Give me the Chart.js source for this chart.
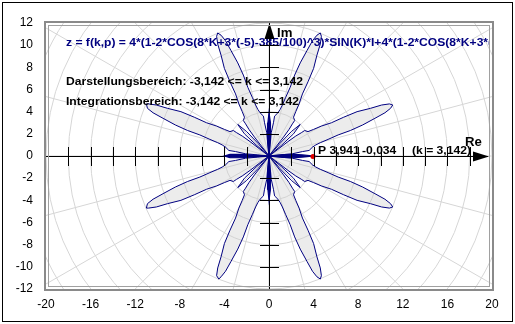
<!DOCTYPE html>
<html>
<head>
<meta charset="utf-8">
<script src="https://cdn.jsdelivr.net/npm/chart.js@4.4.1/dist/chart.umd.min.js"></script>
<style>
  html, body { margin: 0; padding: 0; background: #fff; }
  #wrap { position: relative; width: 515px; height: 324px; }
</style>
</head>
<body>
<div id="wrap"><canvas id="polarChart" width="515" height="324"></canvas></div>
<script>
// axis tick values
const xLabelTicks = [-20, -16, -12, -8, -4, 0, 4, 8, 12, 16, 20];
const yLabelTicks = [-12, -10, -8, -6, -4, -2, 0, 2, 4, 6, 8, 10, 12];
const xAxisMarks = [-18, -16, -14, -12, -10, -8, -6, -4, -2, 2, 4, 6, 8, 10, 12, 14, 16, 18];
const yAxisMarks = [-10, -8, -6, -4, -2, 2, 4, 6, 8, 10];

// polar grid
const gridRadii = [2, 4, 6, 8, 10, 12, 14, 16, 18, 20, 22, 24];
const gridAngles = [0, 15, 30, 45, 60, 75, 90, 105, 120, 135, 150, 165];

// petals of the curve (x, y)
const petalENE = [[0,0],[1.0,0.1],[2.1,0.2],[3.0,0.4],[3.6,0.5],[3.9,0.8],[4.2,1.0],[4.6,1.2],[5.3,1.5],[6.2,1.9],[7.3,2.3],[8.4,2.8],[9.5,3.4],[10.4,3.9],[10.9,4.3],[11.1,4.6],[10.8,4.7],[10.1,4.6],[9.1,4.3],[7.9,4.0],[6.7,3.5],[5.6,3.0],[4.7,2.7],[4.0,2.4],[3.5,2.2],[3.2,2.3],[2.9,2.1],[2.4,1.8],[1.7,1.3],[0.8,0.6],[0,0]];
const petalESE = [[0,0],[1.0,-0.1],[2.1,-0.2],[3.0,-0.4],[3.6,-0.5],[3.9,-0.8],[4.2,-1.0],[4.6,-1.2],[5.3,-1.5],[6.2,-1.9],[7.3,-2.3],[8.4,-2.8],[9.5,-3.4],[10.4,-3.9],[10.9,-4.3],[11.1,-4.6],[10.8,-4.7],[10.1,-4.6],[9.1,-4.3],[7.9,-4.0],[6.7,-3.5],[5.6,-3.0],[4.7,-2.7],[4.0,-2.4],[3.5,-2.2],[3.2,-2.3],[2.9,-2.1],[2.4,-1.8],[1.7,-1.3],[0.8,-0.6],[0,0]];
const petalNNE = [[0,0],[0.1,1.0],[0.2,2.1],[0.4,3.0],[0.5,3.6],[0.8,3.9],[1.0,4.2],[1.2,4.6],[1.5,5.3],[1.9,6.2],[2.3,7.3],[2.8,8.4],[3.4,9.5],[3.9,10.4],[4.3,10.9],[4.6,11.1],[4.7,10.8],[4.6,10.1],[4.3,9.1],[4.0,7.9],[3.5,6.7],[3.0,5.6],[2.7,4.7],[2.4,4.0],[2.2,3.5],[2.3,3.2],[2.1,2.9],[1.8,2.4],[1.3,1.7],[0.6,0.8],[0,0]];
const petalNNW = [[0,0],[-0.1,1.0],[-0.2,2.1],[-0.4,3.0],[-0.5,3.6],[-0.8,3.9],[-1.0,4.2],[-1.2,4.6],[-1.5,5.3],[-1.9,6.2],[-2.3,7.3],[-2.8,8.4],[-3.4,9.5],[-3.9,10.4],[-4.3,10.9],[-4.6,11.1],[-4.7,10.8],[-4.6,10.1],[-4.3,9.1],[-4.0,7.9],[-3.5,6.7],[-3.0,5.6],[-2.7,4.7],[-2.4,4.0],[-2.2,3.5],[-2.3,3.2],[-2.1,2.9],[-1.8,2.4],[-1.3,1.7],[-0.6,0.8],[0,0]];
const petalWNW = [[0,0],[-1.0,0.1],[-2.1,0.2],[-3.0,0.4],[-3.6,0.5],[-3.9,0.8],[-4.2,1.0],[-4.6,1.2],[-5.3,1.5],[-6.2,1.9],[-7.3,2.3],[-8.4,2.8],[-9.5,3.4],[-10.4,3.9],[-10.9,4.3],[-11.0,4.7],[-10.8,4.7],[-10.1,4.6],[-9.1,4.3],[-7.9,4.0],[-6.7,3.5],[-5.6,3.0],[-4.7,2.7],[-4.0,2.4],[-3.5,2.2],[-3.2,2.3],[-2.9,2.1],[-2.4,1.8],[-1.7,1.3],[-0.8,0.6],[0,0]];
const petalWSW = [[0,0],[-1.0,-0.1],[-2.1,-0.2],[-3.0,-0.4],[-3.6,-0.5],[-3.9,-0.8],[-4.2,-1.0],[-4.6,-1.2],[-5.3,-1.5],[-6.2,-1.9],[-7.3,-2.3],[-8.4,-2.8],[-9.5,-3.4],[-10.4,-3.9],[-10.9,-4.3],[-11.0,-4.7],[-10.8,-4.7],[-10.1,-4.6],[-9.1,-4.3],[-7.9,-4.0],[-6.7,-3.5],[-5.6,-3.0],[-4.7,-2.7],[-4.0,-2.4],[-3.5,-2.2],[-3.2,-2.3],[-2.9,-2.1],[-2.4,-1.8],[-1.7,-1.3],[-0.8,-0.6],[0,0]];
const petalSSW = [[0,0],[-0.1,-1.0],[-0.2,-2.1],[-0.4,-3.0],[-0.5,-3.6],[-0.8,-3.9],[-1.0,-4.2],[-1.2,-4.6],[-1.5,-5.3],[-1.9,-6.2],[-2.3,-7.3],[-2.8,-8.4],[-3.4,-9.5],[-3.9,-10.4],[-4.3,-10.9],[-4.5,-11.1],[-4.7,-10.8],[-4.6,-10.1],[-4.3,-9.1],[-4.0,-7.9],[-3.5,-6.7],[-3.0,-5.6],[-2.7,-4.7],[-2.4,-4.0],[-2.2,-3.5],[-2.3,-3.2],[-2.1,-2.9],[-1.8,-2.4],[-1.3,-1.7],[-0.6,-0.8],[0,0]];
const petalSSE = [[0,0],[0.1,-1.0],[0.2,-2.1],[0.4,-3.0],[0.5,-3.6],[0.8,-3.9],[1.0,-4.2],[1.2,-4.6],[1.5,-5.3],[1.9,-6.2],[2.3,-7.3],[2.8,-8.4],[3.4,-9.5],[3.9,-10.4],[4.3,-10.9],[4.6,-11.1],[4.7,-10.8],[4.6,-10.1],[4.3,-9.1],[4.0,-7.9],[3.5,-6.7],[3.0,-5.6],[2.7,-4.7],[2.4,-4.0],[2.2,-3.5],[2.3,-3.2],[2.1,-2.9],[1.8,-2.4],[1.3,-1.7],[0.6,-0.8],[0,0]];

// thin inner loops (negative radius parts)
const loopE = [[0,0],[1.3,0.12],[2.2,0.16],[3.0,0.1],[3.94,0.0],[3.0,-0.1],[2.2,-0.16],[1.3,-0.12],[0,0]];
const loopW = [[0,0],[-1.5,0.08],[-2.5,0.16],[-3.5,0.15],[-4.0,0.0],[-3.5,-0.15],[-2.5,-0.16],[-1.5,-0.08],[0,0]];
const loopN = [[0,0],[0.1,1.4],[0.16,2.0],[0.1,3.0],[0.0,3.9],[-0.1,3.0],[-0.16,2.0],[-0.1,1.4],[0,0]];
const loopS = [[0,0],[0.1,-1.4],[0.16,-2.0],[0.1,-3.0],[0.0,-4.0],[-0.1,-3.0],[-0.16,-2.0],[-0.1,-1.4],[0,0]];
const loopNE = [[0,0],[1.0,1.15],[2.0,2.2],[2.8,2.85],[2.2,2.0],[1.15,1.0],[0,0]];
const loopNW = [[0,0],[-1.0,1.15],[-2.0,2.2],[-2.8,2.85],[-2.2,2.0],[-1.15,1.0],[0,0]];
const loopSW = [[0,0],[-1.0,-1.15],[-2.0,-2.2],[-2.8,-2.85],[-2.2,-2.0],[-1.15,-1.0],[0,0]];
const loopSE = [[0,0],[1.0,-1.15],[2.0,-2.2],[2.8,-2.85],[2.2,-2.0],[1.15,-1.0],[0,0]];

const pointP = [[3.941, -0.034]];

const titleText = 'z = f(k,p) = 4*(1-2*COS(8*K+3*(-5)-385/100)^3)*SIN(K)*I+4*(1-2*COS(8*K+3*(-5)-385/100)^3)*COS(K)';
const rangeText = 'Darstellungsbereich: -3,142 <= k <= 3,142';
const integText = 'Integrationsbereich: -3,142 <= k <= 3,142';
const pointParts = ['P 3,941', '-0,034', '(k = 3,142)'];

const NAVY = '#000080';
const TEXT_FONT = 'bold 11px "Liberation Sans", Arial, sans-serif';
const toXY = arr => arr.map(p => ({ x: p[0], y: p[1] }));

const petals = [petalENE, petalNNE, petalNNW, petalWNW, petalWSW, petalSSW, petalSSE, petalESE];
const thickLoops = [loopE, loopW, loopN, loopS];
const thinLoops = [loopNE, loopNW, loopSW, loopSE];

const datasets = [];
datasets.push({
    data: toXY(pointP),
    showLine: false,
    pointRadius: 2.5,
    pointBackgroundColor: '#e00000',
    pointBorderColor: '#e00000',
    pointBorderWidth: 0
});
thickLoops.forEach(l => datasets.push({
    data: toXY(l), showLine: true, fill: 'shape',
    backgroundColor: NAVY, borderColor: NAVY, borderWidth: 1.2, pointRadius: 0
}));
thinLoops.forEach(l => datasets.push({
    data: toXY(l), showLine: true, fill: false,
    borderColor: NAVY, borderWidth: 1, pointRadius: 0
}));
petals.forEach(p => datasets.push({
    data: toXY(p), showLine: true, fill: 'shape',
    backgroundColor: 'rgba(205,205,205,0.38)', borderColor: NAVY, borderWidth: 1, pointRadius: 0
}));

// bold text stretched sideways like the old bitmap font
function wideText(ctx, text, x, y, stretch) {
    ctx.save();
    ctx.translate(x, y);
    ctx.scale(stretch, 1);
    ctx.fillText(text, 0, 0);
    ctx.restore();
}

// polar grid + axis lines under the curve
const polarGrid = {
    id: 'polarGrid',
    beforeDatasetsDraw(chart) {
        const { ctx, chartArea: a, scales: { x, y } } = chart;
        const cx = x.getPixelForValue(0), cy = y.getPixelForValue(0);
        const ux = x.getPixelForValue(1) - cx, uy = cy - y.getPixelForValue(1);
        ctx.save();
        ctx.beginPath();
        ctx.rect(a.left, a.top, a.right - a.left, a.bottom - a.top);
        ctx.clip();
        ctx.strokeStyle = '#d6d6d6';
        ctx.lineWidth = 1;
        gridRadii.forEach(r => {
            ctx.beginPath();
            ctx.ellipse(cx, cy, r * ux, r * uy, 0, 0, Math.PI * 2);
            ctx.stroke();
        });
        gridAngles.forEach(d => {
            const t = d * Math.PI / 180, L = 40;
            ctx.beginPath();
            ctx.moveTo(cx - Math.cos(t) * L * ux, cy + Math.sin(t) * L * uy);
            ctx.lineTo(cx + Math.cos(t) * L * ux, cy - Math.sin(t) * L * uy);
            ctx.stroke();
        });
        // axes
        ctx.strokeStyle = '#000';
        ctx.beginPath();
        ctx.moveTo(a.left, Math.round(cy) + 0.5);
        ctx.lineTo(a.right - 4, Math.round(cy) + 0.5);
        ctx.moveTo(Math.round(cx) + 0.5, a.bottom);
        ctx.lineTo(Math.round(cx) + 0.5, a.top);
        ctx.stroke();
        ctx.restore();
    }
};

// ticks, arrows, texts, frame on top
const overlay = {
    id: 'overlay',
    afterDatasetsDraw(chart) {
        const { ctx, chartArea: a, scales: { x, y } } = chart;
        const cx = Math.round(x.getPixelForValue(0)) + 0.5;
        const cy = Math.round(y.getPixelForValue(0)) + 0.5;
        ctx.save();
        ctx.beginPath();
        ctx.rect(a.left + 3, a.top + 3, a.right - a.left - 6, a.bottom - a.top - 6);
        ctx.clip();

        ctx.font = TEXT_FONT;
        ctx.textBaseline = 'middle';
        // stretch so the range line spans the same width as in the original
        const stretch = 237 / ctx.measureText(rangeText).width;
        ctx.fillStyle = NAVY;
        wideText(ctx, titleText, 66, 43, stretch);
        ctx.fillStyle = '#000';
        wideText(ctx, rangeText, 66, 82, stretch);
        wideText(ctx, integText, 66, 102, stretch);
        wideText(ctx, pointParts[0], 318, 151, stretch);
        wideText(ctx, pointParts[1], 362, 151, stretch);
        wideText(ctx, pointParts[2], 412, 151, stretch);

        ctx.strokeStyle = '#000';
        ctx.lineWidth = 1;
        ctx.beginPath();
        xAxisMarks.forEach(v => {
            const px = Math.round(x.getPixelForValue(v)) + 0.5;
            ctx.moveTo(px, cy - 9.5);
            ctx.lineTo(px, cy + 9.5);
        });
        yAxisMarks.forEach(v => {
            const py = Math.round(y.getPixelForValue(v)) + 0.5;
            ctx.moveTo(cx - 9.5, py);
            ctx.lineTo(cx + 9.5, py);
        });
        ctx.stroke();

        // arrow heads
        ctx.fillStyle = '#000';
        ctx.beginPath();
        ctx.moveTo(a.right - 3, cy);
        ctx.lineTo(a.right - 19, cy - 5);
        ctx.lineTo(a.right - 19, cy + 5);
        ctx.closePath();
        ctx.fill();
        ctx.beginPath();
        ctx.moveTo(cx, a.top);
        ctx.lineTo(cx - 5, a.top + 16);
        ctx.lineTo(cx + 5, a.top + 16);
        ctx.closePath();
        ctx.fill();

        ctx.font = 'bold 12px "Liberation Sans", Arial, sans-serif';
        wideText(ctx, 'Re', 465, 143, 1.1);
        wideText(ctx, 'Im', 277, 34, 1.1);
        ctx.restore();

        // plot frame
        ctx.save();
        ctx.strokeStyle = '#8a8a8a';
        ctx.lineWidth = 2;
        ctx.strokeRect(a.left - 1, a.top - 1, a.right - a.left + 2, a.bottom - a.top + 2);
        ctx.lineWidth = 1;
        ctx.strokeStyle = '#a0a0a0';
        ctx.strokeRect(a.left + 2.5, a.top + 2.5, a.right - a.left - 5, a.bottom - a.top - 5);
        // outer border
        ctx.strokeStyle = '#000';
        ctx.strokeRect(2.5, 2.5, 510, 319);
        ctx.restore();
    }
};

new Chart(document.getElementById('polarChart'), {
    type: 'scatter',
    data: { datasets },
    options: {
        responsive: false,
        animation: false,
        devicePixelRatio: 1,
        layout: { padding: { top: 23, right: 23, left: 0, bottom: 0 } },
        plugins: { legend: { display: false }, tooltip: { enabled: false } },
        scales: {
            x: {
                type: 'linear', min: -20, max: 20,
                afterFit: s => { s.height = 35; },
                afterBuildTicks: s => { s.ticks = xLabelTicks.map(v => ({ value: v })); },
                grid: { display: false, drawTicks: false },
                border: { display: false },
                ticks: { color: '#000', padding: 8, maxRotation: 0, font: { size: 12, family: '"Liberation Sans", Arial, sans-serif' } }
            },
            y: {
                type: 'linear', min: -12, max: 12,
                afterFit: s => { s.width = 46; },
                afterBuildTicks: s => { s.ticks = yLabelTicks.map(v => ({ value: v })); },
                grid: { display: false, drawTicks: false },
                border: { display: false },
                ticks: { color: '#000', padding: 13, font: { size: 12, family: '"Liberation Sans", Arial, sans-serif' } }
            }
        }
    },
    plugins: [polarGrid, overlay]
});
</script>
</body>
</html>
